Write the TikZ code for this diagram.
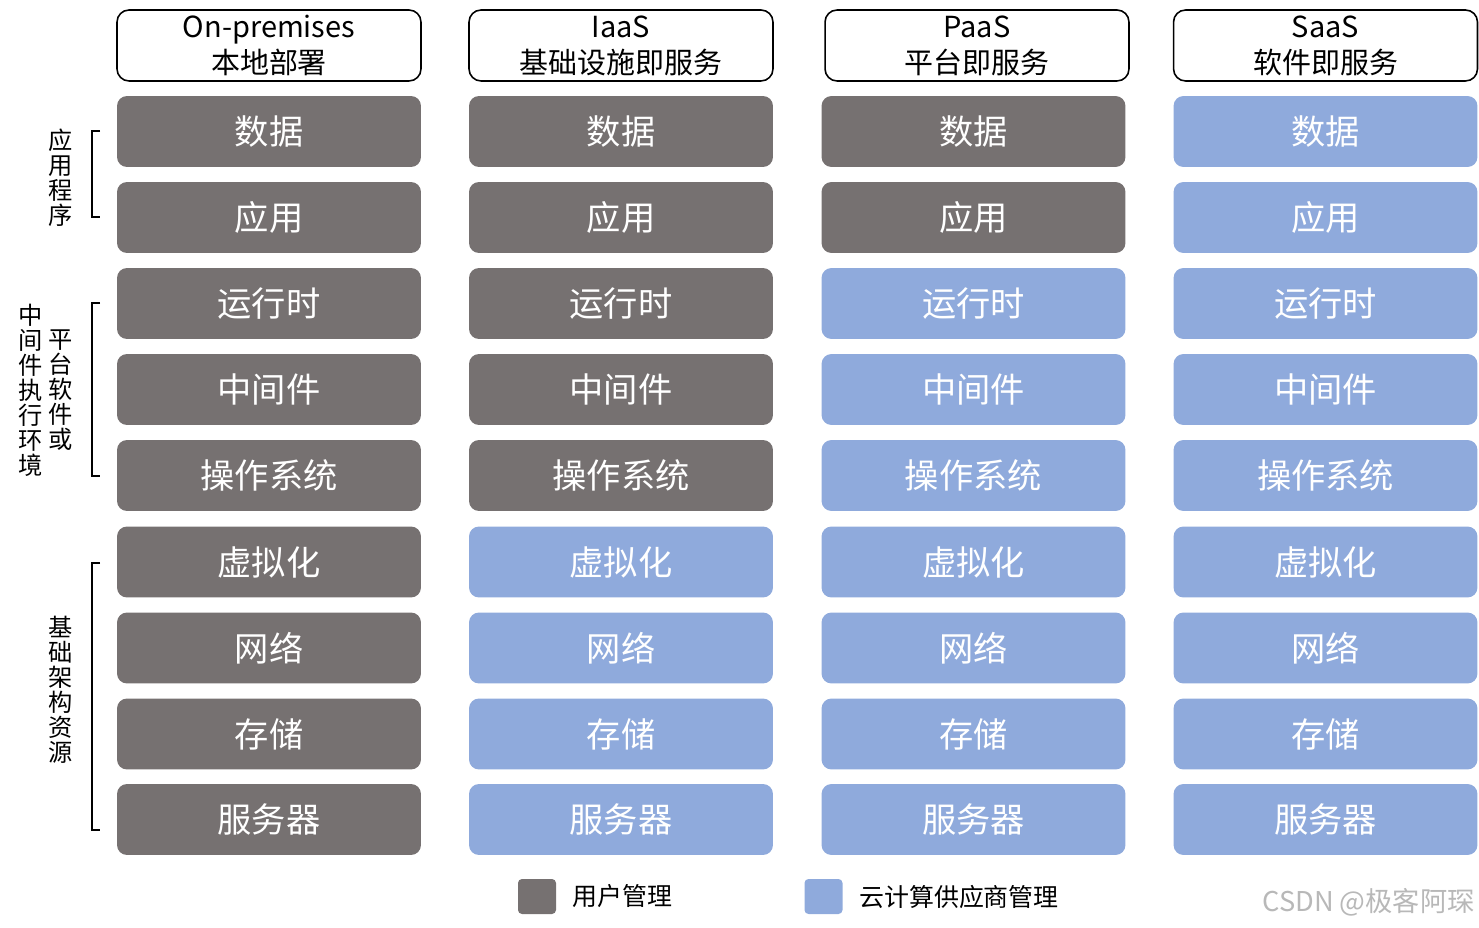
\documentclass[tikz,border=0pt]{standalone}
\usepackage{fontspec}
\setmainfont{Noto Sans CJK SC}
\definecolor{usergray}{HTML}{767171}
\definecolor{cloudblue}{HTML}{8FAADC}
\usetikzlibrary{positioning}

\begin{document}
\begin{tikzpicture}[x=0.02cm, y=-0.02cm,
    head/.style={rectangle, rounded corners=0.24cm, draw=black, line width=0.9pt,
      fill=white, minimum width=6.08cm, minimum height=1.42cm, inner sep=0pt,
      align=center, font=\fontsize{16.5}{20.5}\selectfont},
    usr/.style={rectangle, rounded corners=0.2cm, fill=usergray, text=white,
      minimum width=6.08cm, minimum height=1.42cm, inner sep=0pt,
      font=\fontsize{19.5}{24}\selectfont},
    cld/.style={usr, fill=cloudblue},
    side/.style={align=center, inner sep=0pt, font=\fontsize{13.8}{14.2}\selectfont},
    key/.style={rectangle, rounded corners=0.08cm, minimum width=0.76cm,
      minimum height=0.7cm, inner sep=0pt},
    lbl/.style={inner sep=0pt, font=\fontsize{14.2}{17}\selectfont},
    brk/.style={line width=0.6pt}
  ]
    \useasboundingbox (0,0) rectangle (1479,928);

    % ── Column heads
    \node[head] (hon) at (269,45.5) {On-premises\\本地部署};
    \node[head] (hia) at (621,45.5) {IaaS\\基础设施即服务};
    \node[head] (hpa) at (977,45.5) {PaaS\\平台即服务};
    \node[head] (hsa) at (1325.5,45.5) {SaaS\\软件即服务};

    % ── On-premises
    \node[usr] (o1) at (269,131.5) {数据};
    \node[usr] (o2) at (269,217.5) {应用};
    \node[usr] (o3) at (269,303.5) {运行时};
    \node[usr] (o4) at (269,389.5) {中间件};
    \node[usr] (o5) at (269,475.5) {操作系统};
    \node[usr] (o6) at (269,562) {虚拟化};
    \node[usr] (o7) at (269,648) {网络};
    \node[usr] (o8) at (269,734) {存储};
    \node[usr] (o9) at (269,819.5) {服务器};

    % ── IaaS
    \node[usr] (i1) at (621,131.5) {数据};
    \node[usr] (i2) at (621,217.5) {应用};
    \node[usr] (i3) at (621,303.5) {运行时};
    \node[usr] (i4) at (621,389.5) {中间件};
    \node[usr] (i5) at (621,475.5) {操作系统};
    \node[cld] (i6) at (621,562) {虚拟化};
    \node[cld] (i7) at (621,648) {网络};
    \node[cld] (i8) at (621,734) {存储};
    \node[cld] (i9) at (621,819.5) {服务器};

    % ── PaaS
    \node[usr] (p1) at (973.5,131.5) {数据};
    \node[usr] (p2) at (973.5,217.5) {应用};
    \node[cld] (p3) at (973.5,303.5) {运行时};
    \node[cld] (p4) at (973.5,389.5) {中间件};
    \node[cld] (p5) at (973.5,475.5) {操作系统};
    \node[cld] (p6) at (973.5,562) {虚拟化};
    \node[cld] (p7) at (973.5,648) {网络};
    \node[cld] (p8) at (973.5,734) {存储};
    \node[cld] (p9) at (973.5,819.5) {服务器};

    % ── SaaS
    \node[cld] (s1) at (1325.5,131.5) {数据};
    \node[cld] (s2) at (1325.5,217.5) {应用};
    \node[cld] (s3) at (1325.5,303.5) {运行时};
    \node[cld] (s4) at (1325.5,389.5) {中间件};
    \node[cld] (s5) at (1325.5,475.5) {操作系统};
    \node[cld] (s6) at (1325.5,562) {虚拟化};
    \node[cld] (s7) at (1325.5,648) {网络};
    \node[cld] (s8) at (1325.5,734) {存储};
    \node[cld] (s9) at (1325.5,819.5) {服务器};

    % ── Layer labels and brackets
    \node[side] (app) at (61,178) {应\\用\\程\\序};
    \node[side] (mid) at (31,390) {中\\间\\件\\执\\行\\环\\境};
    \node[side] (plat) at (61,390) {平\\台\\软\\件\\或};
    \node[side] (infra) at (61,690) {基\\础\\架\\构\\资\\源};
    \draw[brk] (100,131) -- (92,131) -- (92,217) -- (100,217);
    \draw[brk] (100,303) -- (92,303) -- (92,476) -- (100,476);
    \draw[brk] (100,563) -- (92,563) -- (92,830) -- (100,830);

    % ── Legend
    \node[key, fill=usergray] (ukey) at (537,896.5) {};
    \node[lbl, right=0.32cm of ukey] (utxt) {用户管理};
    \node[key, fill=cloudblue] (ckey) at (823.5,896.5) {};
    \node[lbl, right=0.32cm of ckey] (ctxt) {云计算供应商管理};
    \node[lbl, text=black!28, anchor=east, font=\fontsize{15.5}{18}\selectfont]
      (mark) at (1475,902) {CSDN @极客阿琛};
  \end{tikzpicture}
\end{document}
